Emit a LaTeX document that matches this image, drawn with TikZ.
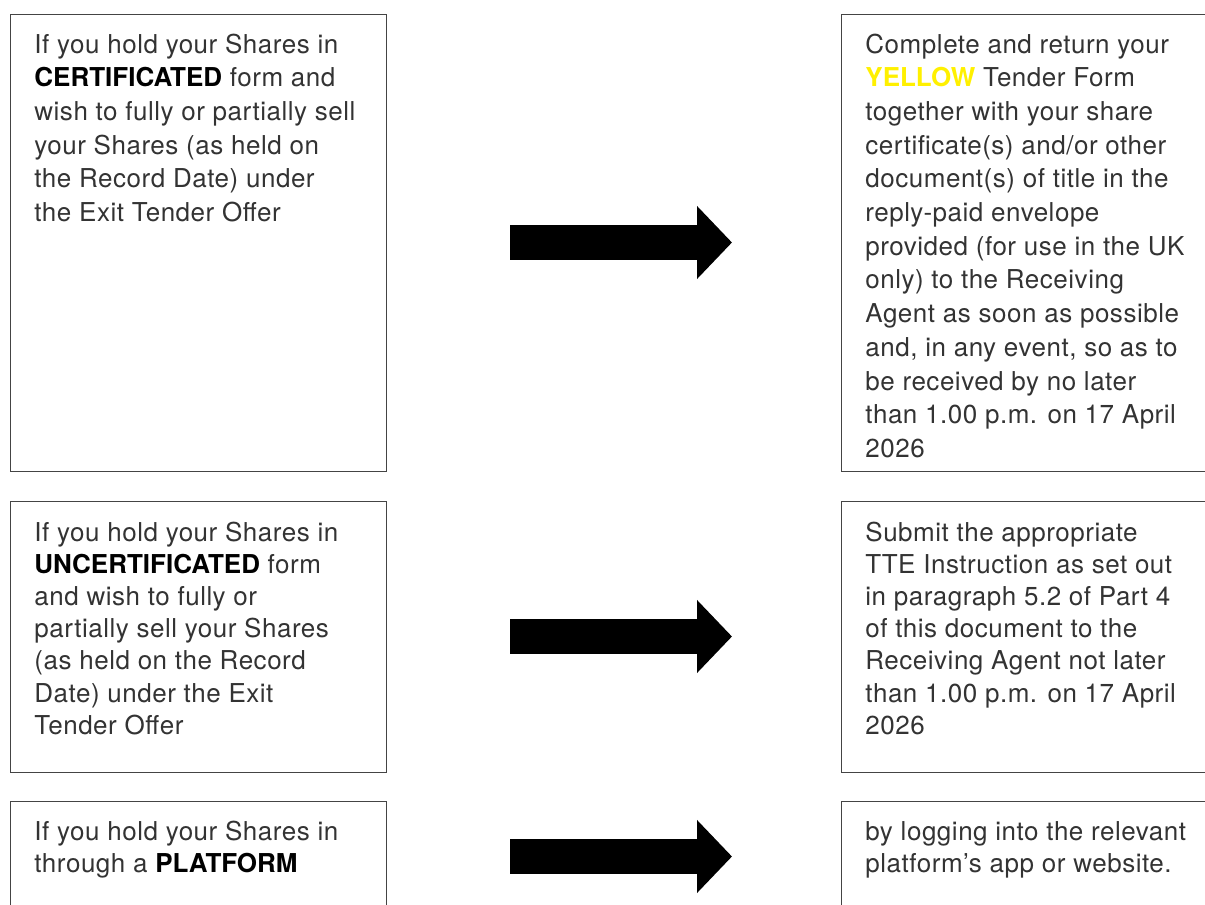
\documentclass[tikz,border=0pt]{standalone}
\usepackage{fontspec}
\setmainfont[LetterSpace=2]{TeX Gyre Heros}
\usetikzlibrary{arrows.meta}
\definecolor{txt}{HTML}{333333}
\definecolor{boxline}{HTML}{444444}
\definecolor{yel}{HTML}{FFF000}
\begin{document}
\begin{tikzpicture}[x=0.5pt,y=-0.5pt,
  box/.style={draw=boxline,line width=0.65pt,anchor=north west,inner sep=0pt,minimum width=#1},
  box/.default=188pt,
  txtnode/.style={anchor=base west,inner sep=0pt,text=txt},
  bigarrow/.style={line width=17.5pt,black,-{Triangle[length=17.5pt,width=35.5pt]}}]
\useasboundingbox (0,0) rectangle (1205,905);
\clip (0,0) rectangle (1205,905);
\newcommand{\boxtext}[2][16.1pt]{\parbox[t]{200pt}{\fontsize{13pt}{#1}\selectfont\raggedright #2}}
\newcommand{\bw}[1]{{\addfontfeature{LetterSpace=0}\bfseries #1}}
% left boxes
\node[box,minimum height=228.5pt] (L1) at (10,14) {};
\node[box,minimum height=135.5pt] (L2) at (10,501) {};
\node[box,minimum height=100pt] (L3) at (10,801) {};
% right boxes
\node[box=200pt,minimum height=228.5pt] (R1) at (841,14) {};
\node[box=200pt,minimum height=135.5pt] (R2) at (841,501) {};
\node[box=200pt,minimum height=100pt] (R3) at (841,801) {};
% texts
\node[txtnode] (TL1) at (34,53) {\boxtext[16.85pt]{If you hold your Shares in\\
{\color{black}\bw{CERTIFICATED}} form and\\
wish to fully or partially sell\\
your Shares (as held on\\
the Record Date) under\\
the Exit Tender Offer}};
\node[txtnode] (TR1) at (865,53) {\boxtext[16.85pt]{Complete and return your\\
{\color{yel}\bw{YELLOW}} Tender Form\\
together with your share\\
certificate(s) and/or other\\
document(s) of title in the\\
reply-paid envelope\\
provided (for use in the UK\\
only) to the Receiving\\
Agent as soon as possible\\
and, in any event, so as to\\
be received by no later\\
than 1.00 p.m. on 17 April\\
2026}};
\node[txtnode] (TL2) at (34,541) {\boxtext{If you hold your Shares in\\
{\color{black}\bw{UNCERTIFICATED}} form\\
and wish to fully or\\
partially sell your Shares\\
(as held on the Record\\
Date) under the Exit\\
Tender Offer}};
\node[txtnode] (TR2) at (865,541) {\boxtext{Submit the appropriate\\
TTE Instruction as set out\\
in paragraph 5.2 of Part 4\\
of this document to the\\
Receiving Agent not later\\
than 1.00 p.m. on 17 April\\
2026}};
\node[txtnode] (TL3) at (34,840) {\boxtext{If you hold your Shares in\\
through a {\color{black}\bw{PLATFORM}}}};
\node[txtnode] (TR3) at (865,840) {\boxtext{by logging into the relevant\\
platform’s app or website.}};
% arrows
\coordinate (A1s) at (510,242.5);
\coordinate (A1e) at (732,242.5);
\coordinate (A2s) at (510,636.5);
\coordinate (A2e) at (732,636.5);
\coordinate (A3s) at (510,856.5);
\coordinate (A3e) at (732,856.5);
\draw[bigarrow] (A1s) -- (A1e);
\draw[bigarrow] (A2s) -- (A2e);
\draw[bigarrow] (A3s) -- (A3e);
\end{tikzpicture}
\end{document}
